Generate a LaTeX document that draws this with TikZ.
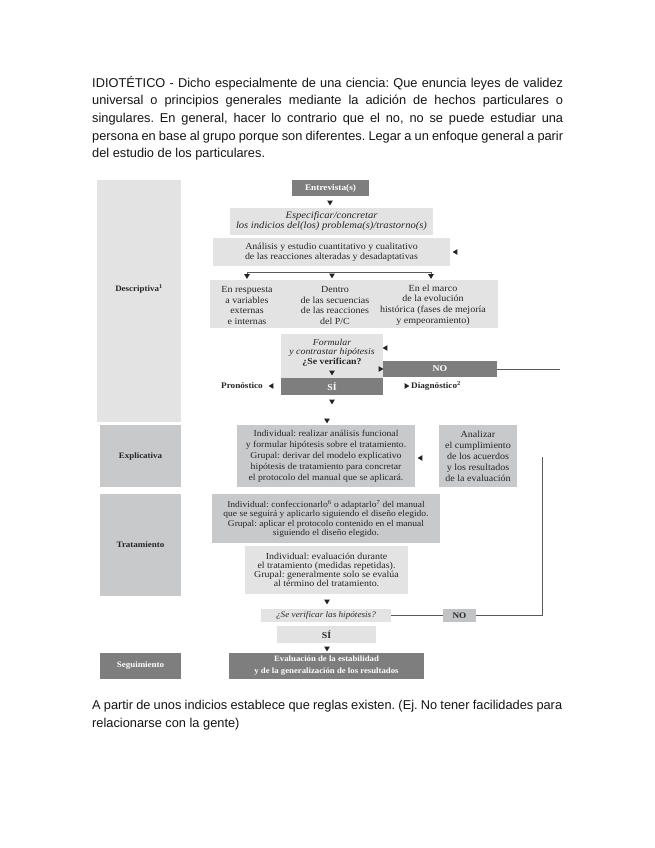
\documentclass[tikz,border=0pt]{standalone}
\usepackage{fontspec}
\setmainfont{Liberation Serif}
\newfontfamily\dfont[FakeStretch=1.08]{Liberation Serif}
\newfontfamily\psans{Liberation Sans}
\newcommand\dsz[2]{\fontsize{#1}{#2}\selectfont}
\definecolor{lightg}{HTML}{E3E3E3}
\definecolor{midg}{HTML}{C8C9CB}
\definecolor{darkg}{HTML}{7E7E7E}
\definecolor{btxt}{HTML}{262626}
\definecolor{linec}{HTML}{5A5A5A}
\definecolor{tipc}{HTML}{222222}
\definecolor{ptxt}{HTML}{151515}
\frenchspacing
\begin{document}
\frenchspacing
\begin{tikzpicture}[x=1pt,y=-1pt,
  bx/.style={rectangle, inner sep=0pt, outer sep=0pt, align=center, text=btxt, font=\dfont\dsz{9.3}{10.5}},
  lb/.style={bx, fill=lightg},
  mb/.style={bx, fill=midg},
  db/.style={bx, fill=darkg, text=white, font=\dfont\bfseries\dsz{8.6}{10}},
  hd/.style={inner sep=0pt, text=btxt, font=\dfont\bfseries\dsz{8.3}{9}},
  tx/.style={inner sep=0pt, align=center, text=btxt},
  conn/.style={draw=linec, line width=0.9pt},
  pline/.style={anchor=base west, inner sep=0pt, text=ptxt, font=\psans\dsz{12.8}{15}},
  tdown/.pic={\fill[tipc] (-2.8,-2.3) -- (2.8,-2.3) -- (0,2.4) -- cycle;},
  tleft/.pic={\fill[tipc] (2.3,-2.8) -- (2.3,2.8) -- (-2.4,0) -- cycle;},
  tright/.pic={\fill[tipc] (-2.3,-2.8) -- (-2.3,2.8) -- (2.4,0) -- cycle;}
]
\useasboundingbox[fill=white] (0,0) rectangle (655,848);

% ---------- top paragraph ----------
\node[pline] (p1) at (92,87.5) {\makebox[471pt][s]{IDIOTÉTICO - Dicho especialmente de una ciencia: Que enuncia leyes de validez}};
\node[pline] (p2) at (92,105) {\makebox[471pt][s]{universal o principios generales mediante la adición de hechos particulares o}};
\node[pline] (p3) at (92,122.5) {\makebox[471pt][s]{singulares. En general, hacer lo contrario que el no, no se puede estudiar una}};
\node[pline] (p4) at (92,140) {\makebox[471pt][s]{persona en base al grupo porque son diferentes. Legar a un enfoque general a parir}};
\node[pline] (p5) at (92,157.5) {del estudio de los particulares.};

% ---------- left column ----------
\node[lb, minimum width=84, minimum height=242] (desc) at (139,301) {};
\node[hd] (descl) at (139,289) {Descriptiva\textsuperscript{1}};
\node[mb, minimum width=81, minimum height=62] (expl) at (140.5,456) {};
\node[hd] (expll) at (140.5,456) {Explicativa};
\node[mb, minimum width=81, minimum height=102] (trat) at (140.5,545) {};
\node[hd] (tratl) at (140.5,545) {Tratamiento};
\node[db, minimum width=81, minimum height=26] (segu) at (140.5,666) {};
\node[hd, text=white] (segul) at (140.5,666) {Seguimiento};

% ---------- descriptiva ----------
\node[db, minimum width=77, minimum height=16] (entr) at (330.5,188) {Entrevista(s)};
\pic at (330,203) {tdown};
\node[lb, minimum width=203, minimum height=27, font=\dfont\itshape\dsz{9.8}{10}] (espe) at (331.5,221.5)
  {Especificar/concretar\\los indicios del(los) problema(s)/trastorno(s)};
\node[lb, minimum width=237, minimum height=28, font=\dfont\dsz{9.2}{10}] (anal) at (331.5,252)
  {Análisis y estudio cuantitativo y cualitativo\\de las reacciones alteradas y desadaptativas};
\pic at (455,252) {tleft};

\coordinate (b1) at (247,272);
\coordinate (b3) at (431,272);
\coordinate (s1) at (247,275);
\coordinate (s3) at (431,275);
\draw[conn] (s1) -- (b1) -- (b3) -- (s3);
\pic at (247,276.5) {tdown};
\pic at (332,276) {tdown};
\pic at (431,276.5) {tdown};

\node[lb, minimum width=288, minimum height=48] (tres) at (354,304) {};
\node[tx, font=\dfont\dsz{9.3}{10.6}] (t1) at (247,305.5) {En respuesta\\a variables\\externas\\e internas};
\node[tx, font=\dfont\dsz{9.3}{10.6}] (t2) at (335,305.5) {Dentro\\de las secuencias\\de las reacciones\\del P/C};
\node[tx, font=\dfont\dsz{9.3}{10.6}] (t3) at (433,305) {En el marco\\de la evolución\\histórica (fases de mejoría\\y empeoramiento)};

\node[lb, minimum width=102, minimum height=44] (form) at (332,356) {};
\node[tx, font=\dfont\itshape\dsz{9.1}{9.6}] (formt) at (332,352.5)
  {Formular\\y contrastar hipótesis\\{\upshape\bfseries ¿Se verifican?}};
\pic at (332,373) {tdown};
\pic at (385,348) {tleft};
\node[db, minimum width=102, minimum height=17, font=\dfont\bfseries\dsz{9}{10}] (si1) at (332,386.5) {SÍ};
\node[db, minimum width=114, minimum height=16, font=\dfont\bfseries\dsz{9}{10}] (no1) at (440,369) {NO};
\pic at (381,369) {tright};
\coordinate (noend) at (560,369);
\draw[conn] (no1.east) -- (noend);

\node[hd, font=\dfont\bfseries\dsz{8.5}{9}] (pron) at (242,386) {Pronóstico};
\pic at (271,386) {tleft};
\pic at (407,386) {tright};
\node[hd, anchor=west, font=\dfont\bfseries\dsz{8.5}{9}] (diag) at (411,386) {Diagnóstico\textsuperscript{2}};
\pic at (332,402) {tdown};
\pic at (327,421) {tdown};

% ---------- explicativa ----------
\node[mb, minimum width=178, minimum height=62, font=\dfont\dsz{9}{11}] (indv) at (326,456)
  {Individual: realizar análisis funcional\\y formular hipótesis sobre el tratamiento.\\Grupal: derivar del modelo explicativo\\hipótesis de tratamiento para concretar\\el protocolo del manual que se aplicará.};
\pic at (420,458) {tleft};
\node[mb, minimum width=78, minimum height=62, font=\dfont\dsz{9.3}{11}] (anlz) at (478,456)
  {Analizar\\el cumplimiento\\de los acuerdos\\y los resultados\\de la evaluación};

% ---------- tratamiento ----------
\node[mb, minimum width=228, minimum height=49, font=\dfont\dsz{8.8}{9.1}] (trt1) at (326,518.5)
  {Individual: confeccionarlo\textsuperscript{6} o adaptarlo\textsuperscript{7} del manual\\que se seguirá y aplicarlo siguiendo el diseño elegido.\\Grupal: aplicar el protocolo contenido en el manual\\siguiendo el diseño elegido.};
\node[lb, minimum width=163, minimum height=48, font=\dfont\dsz{9.2}{9.2}] (trt2) at (326.5,570)
  {Individual: evaluación durante\\el tratamiento (medidas repetidas).\\Grupal: generalmente solo se evalúa\\al término del tratamiento.};
\pic at (327,602) {tdown};

\node[lb, minimum width=130, minimum height=13, font=\dfont\itshape\dsz{8.5}{9}] (hip) at (326,615.5) {¿Se verificar las hipótesis?};
\node[bx, fill=midg!97!black, minimum width=33, minimum height=13, font=\dfont\bfseries\dsz{8.5}{9}] (no2) at (459.5,615.5) {NO};
\coordinate (rc) at (542,615.5);
\coordinate (rt) at (542,457);
\draw[conn] (hip.east) -- (no2.west);
\draw[conn] (no2.east) -- (rc) -- (rt);

\node[lb, minimum width=99, minimum height=17, font=\dfont\bfseries\dsz{9}{10}] (si2) at (326.5,634.5) {SÍ};
\pic at (327,649) {tdown};

% ---------- seguimiento ----------
\node[db, minimum width=195, minimum height=26, font=\dfont\bfseries\dsz{8.1}{12}] (eval) at (326.5,666)
  {Evaluación de la estabilidad\\y de la generalización de los resultados};

% ---------- bottom paragraph ----------
\node[pline] (q1) at (92,709.5) {\makebox[470pt][s]{A partir de unos indicios establece que reglas existen. (Ej. No tener facilidades para}};
\node[pline] (q2) at (92,727) {relacionarse con la gente)};
\end{tikzpicture}
\end{document}
